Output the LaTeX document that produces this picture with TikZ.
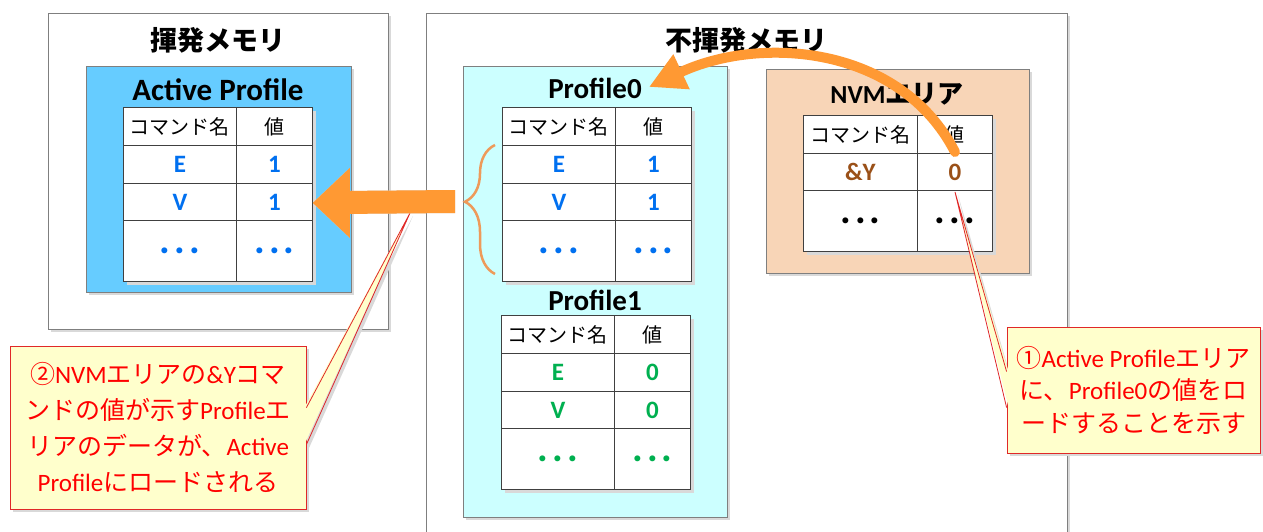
\documentclass[tikz,border=0pt]{standalone}
\usepackage{fontspec}
\setmainfont{Carlito}
\newfontfamily\jp{Noto Sans CJK JP}
\usetikzlibrary{calc,arrows.meta,decorations.pathreplacing}

\definecolor{panelline}{HTML}{7F7F7F}
\definecolor{cellline}{HTML}{404040}
\definecolor{shadowgray}{HTML}{D9D9D9}
\definecolor{activeblue}{HTML}{66CCFF}
\definecolor{profcyan}{HTML}{CCFFFF}
\definecolor{nvmpeach}{HTML}{F8D5B7}
\definecolor{arroworange}{HTML}{FF9933}
\definecolor{braceorange}{HTML}{EE9A5A}
\definecolor{valblue}{HTML}{0070F0}
\definecolor{valgreen}{HTML}{00B050}
\definecolor{valbrown}{HTML}{9A5018}
\definecolor{calloutfill}{HTML}{FFFFCC}
\definecolor{calloutred}{HTML}{E02828}
\definecolor{textred}{HTML}{FF0000}

\newcommand\valfont{\fontsize{25}{26}\selectfont\bfseries}
\newcommand\dotfont{\fontsize{40}{40}\selectfont\bfseries}
\newcommand\dotstext{\dotfont .\kern4pt.\kern4pt.}

\tikzset{
  panel/.style={draw=panelline, line width=0.8pt, inner sep=0pt, anchor=north west},
  cell/.style={draw=cellline, line width=0.8pt, fill=white, anchor=north west, inner sep=0pt, font=\fontsize{20}{24}\selectfont},
  titletext/.style={inner sep=0pt, font=\fontsize{27}{30}\selectfont\bfseries},
  callout/.style={draw=calloutred, fill=calloutfill, line width=0.8pt, text=textred, align=center, inner sep=0pt},
  wedgefill/.style={fill=calloutfill},
  wedgeline/.style={draw=calloutred, line width=0.8pt},
}

\newcommand\panelbox[6]{%
  \fill[shadowgray] ({#2+3},{#3+3}) rectangle ({#4+3},{#5+3});
  \node[panel, fill=#6, minimum width={#4-#2}, minimum height={#5-#3}] (#1) at (#2,#3) {};
}

\newcommand\ptable[8]{%
  \fill[shadowgray] ({#2+4},{#3+4}) rectangle ({#2+193},{#3+178});
  \node[cell, minimum width=113, minimum height=38] (#1-h1) at ({#2},{#3}) {\jp コマンド名};
  \node[cell, minimum width=76, minimum height=38] (#1-h2) at ({#2+113},{#3}) {\jp 値};
  \node[cell, minimum width=113, minimum height=38, text=#4] (#1-r1a) at ({#2},{#3+38}) {\valfont #5};
  \node[cell, minimum width=76, minimum height=38, text=#4] (#1-r1b) at ({#2+113},{#3+38}) {\valfont #6};
  \node[cell, minimum width=113, minimum height=37, text=#4] (#1-r2a) at ({#2},{#3+76}) {\valfont #7};
  \node[cell, minimum width=76, minimum height=37, text=#4] (#1-r2b) at ({#2+113},{#3+76}) {\valfont #8};
  \node[cell, minimum width=113, minimum height=61, text=#4] (#1-r3a) at ({#2},{#3+113}) {\dotstext};
  \node[cell, minimum width=76, minimum height=61, text=#4] (#1-r3b) at ({#2+113},{#3+113}) {\dotstext};
}

\begin{document}
\begin{tikzpicture}[x=1pt,y=-1pt]
\useasboundingbox (0,0) rectangle (1263,532);
\fill[white] (0,0) rectangle (1263,532);

% panels
\panelbox{vol}{48}{13}{388}{329}{white}
\panelbox{nonvol}{426}{13}{1067}{560}{white}
\panelbox{active}{86}{66}{351}{292}{activeblue}
\panelbox{profiles}{463}{66}{727}{517}{profcyan}
\panelbox{nvm}{766}{69}{1029}{273}{nvmpeach}

% titles
\node[titletext] (voltitle) at (218,40) {\jp 揮発メモリ};
\node[titletext] (nonvoltitle) at (746,40) {\jp 不揮発メモリ};
\node[titletext, font=\fontsize{31}{32}\selectfont\bfseries] (activetitle) at (218,90) {Active Profile};
\node[titletext, font=\fontsize{29}{30}\selectfont\bfseries] (p0title) at (595,88) {Profile0};
\node[titletext, font=\fontsize{29}{30}\selectfont\bfseries] (p1title) at (595,300) {Profile1};
\node[titletext, font=\fontsize{26}{30}\selectfont\bfseries] (nvmtitle) at (897,94) {NVM{\jp エリア}};

% tables
\ptable{at}{123}{107}{valblue}{E}{1}{V}{1}
\ptable{p0}{502}{107}{valblue}{E}{1}{V}{1}
\ptable{p1}{501}{315}{valgreen}{E}{0}{V}{0}

% NVM table
\fill[shadowgray] (807,119) rectangle (996,255);
\node[cell, minimum width=114, minimum height=38] (nv-h1) at (803,115) {\jp コマンド名};
\node[cell, minimum width=75, minimum height=38] (nv-h2) at (917,115) {\jp 値};
\node[cell, minimum width=114, minimum height=37, text=valbrown] (nv-r1a) at (803,153) {\valfont \&Y};
\node[cell, minimum width=75, minimum height=37, text=valbrown] (nv-r1b) at (917,153) {\valfont 0};
\node[cell, minimum width=114, minimum height=61, text=black] (nv-r2a) at (803,190) {\dotstext};
\node[cell, minimum width=75, minimum height=61, text=black] (nv-r2b) at (917,190) {\dotstext};

% brace grouping Profile0 rows
\coordinate (braceTop) at (495,145);
\coordinate (braceBot) at (495,274);
\draw[braceorange, line width=2.5pt, decorate, decoration={brace, amplitude=30pt, aspect=0.56}] (braceBot) -- (braceTop);

% callout 2
\fill[shadowgray] (13,349) rectangle (309,512);
\fill[shadowgray] (309,411) -- (413,216) -- (309,448) -- cycle;
\node[callout, minimum width=296, minimum height=163, font=\fontsize{25}{36}\selectfont] (c2) at (158,427.5)
  {{\jp ②}NVM{\jp エリアの}\&Y{\jp コマ}\\{\jp ンドの値が示す}Profile{\jp エ}\\{\jp リアのデータが、}Active\\Profile{\jp にロードされる}};
\coordinate (c2tip) at (410,213);
\fill[wedgefill] ($(c2.north east)+(-2,62)$) -- (c2tip) -- ($(c2.north east)+(-2,99)$) -- cycle;
\draw[wedgeline] ($(c2.north east)+(0,62)$) -- (c2tip) -- ($(c2.north east)+(0,99)$);

% callout 1
\fill[shadowgray] (1010,330) rectangle (1266,456);
\fill[shadowgray] (1010,375) -- (958,195) -- (1010,411) -- cycle;
\node[callout, minimum width=253, minimum height=126, font=\fontsize{25}{32.5}\selectfont] (c1) at (1133.5,390)
  {{\jp ①}Active Profile{\jp エリア}\\{\jp に、}Profile0{\jp の値をロ}\\{\jp ードすることを示す}};
\coordinate (c1tip) at (955,192);
\fill[wedgefill] ($(c1.north west)+(2,45)$) -- (c1tip) -- ($(c1.north west)+(2,81)$) -- cycle;
\draw[wedgeline] ($(c1.north west)+(0,45)$) -- (c1tip) -- ($(c1.north west)+(0,81)$);

% big block arrow: Profile0 -> Active Profile
\coordinate (arrTip) at ($(at-r2b.east)+(0,1)$);
\coordinate (arrSrc) at (455,202);
\fill[shadowgray, shift={(3,3)}] (arrTip) -- ($(arrTip)+(37,-35)$) -- ($(arrTip)+(37,-12)$) -- ($(arrSrc)+(0,-12)$) -- ($(arrSrc)+(0,11)$) -- ($(arrTip)+(37,11)$) -- ($(arrTip)+(37,35)$) -- cycle;
\fill[arroworange] (arrTip) -- ($(arrTip)+(37,-35)$) -- ($(arrTip)+(37,-12)$) -- ($(arrSrc)+(0,-12)$) -- ($(arrSrc)+(0,11)$) -- ($(arrTip)+(37,11)$) -- ($(arrTip)+(37,35)$) -- cycle;

% curved arrow: NVM &Y value -> Profile0
\coordinate (curveStart) at (955,152);
\draw[arroworange, line width=10pt, line cap=round, -{Triangle[length=36pt,width=36pt]}]
  (curveStart) .. controls (900,45) and (760,35) .. ($(p0title.east)+(7,-1)$);
\end{tikzpicture}
\end{document}
